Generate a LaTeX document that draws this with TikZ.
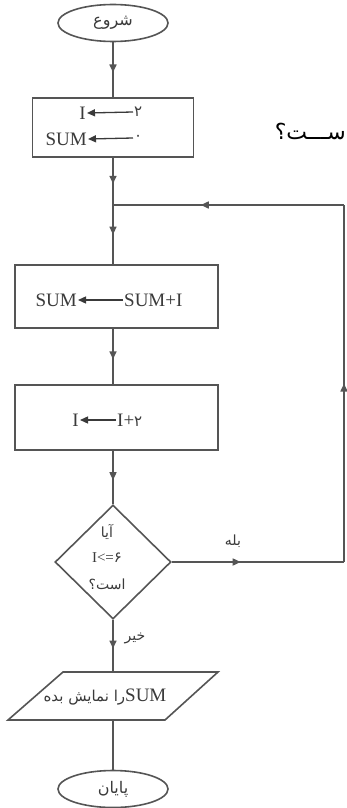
\documentclass[tikz,border=0pt]{standalone}
\usepackage{fontspec}
\setmainfont{Liberation Serif}
\newfontfamily\arabicfont[Script=Arabic]{DejaVu Sans}
\TeXXeTstate=1
\usetikzlibrary{shapes.geometric,decorations.markings,arrows.meta}
\definecolor{lc}{HTML}{555555}
\definecolor{tc}{HTML}{3a3a3a}
\begin{document}
\begin{tikzpicture}[x=1pt,y=-1pt,
  line/.style={draw=lc, line width=1.6pt},
  midarrow/.style={line, postaction={decorate},
    decoration={markings,mark=at position #1 with {\arrow{Triangle[length=8pt,width=7pt]}}}},
  term/.style={ellipse, draw=lc, line width=1.6pt, minimum width=110pt, minimum height=37pt, inner sep=0pt, text=tc, font=\arabicfont\fontsize{16}{18}\selectfont},
  proc/.style={rectangle, draw=lc, line width=1.6pt, inner sep=0pt},
  dec/.style={diamond, draw=lc, line width=1.6pt, minimum width=116pt, minimum height=114pt, inner sep=0pt},
  txt/.style={inner sep=1pt, text=tc, font=\fontsize{19}{22}\selectfont},
  ptxt/.style={inner sep=1pt, text=tc, font=\arabicfont\fontsize{14}{16}\selectfont},
  assign/.style={draw=tc, line width=1.3pt, -{Triangle[length=8pt,width=7pt]}}
]
\useasboundingbox (0,0) rectangle (347,808);
\fill[white] (0,0) rectangle (347,808);

% page text fragment
\node[anchor=base east, inner sep=0pt, text=black, font=\arabicfont\fontsize{22}{26}\selectfont] (frag) at (346,139) {\beginR ســـت؟\endR};

% nodes
\node[term] (start) at (113,23) {\beginR شروع\endR};
\node[proc, minimum width=161pt, minimum height=59pt] (b1) at (113,127.5) {};
\coordinate (j) at (113,205);
\node[proc, minimum width=203pt, minimum height=63pt] (b2) at (116.5,296.5) {};
\node[proc, minimum width=203pt, minimum height=65pt] (b3) at (116.5,417.5) {};
\node[dec] (d) at (113,562) {};
\coordinate (pt) at (113,672);
\coordinate (pb) at (113,720);
\draw[line] (8,720) -- (63,672) -- (218,672) -- (165,720) -- cycle;
\node[term] (end) at (113,789) {\beginR پایان\endR};
\coordinate (c1) at (344,562);
\coordinate (c2) at (344,205);

% texts in boxes
\node[txt, anchor=east] (i1) at (87,113) {I};
\node[txt, anchor=west, font=\arabicfont\fontsize{15}{18}\selectfont] (v1) at (133,112) {۲};
\draw[assign] (v1.west) -- (i1.east);
\node[txt, anchor=east] (s1) at (88,139) {SUM};
\node[txt, anchor=west, font=\arabicfont\fontsize{15}{18}\selectfont] (v2) at (133,138) {۰};
\draw[assign] (v2.west) -- (s1.east);

\node[txt, anchor=east] (s2) at (78,300) {SUM};
\node[txt, anchor=west] (e2) at (123,300) {SUM+I};
\draw[assign] (e2.west) -- (s2.east);

\node[txt, anchor=east] (i3) at (80,420) {I};
\node[txt, anchor=west] (e3) at (116,420) {I+{\arabicfont\fontsize{15}{18}\selectfont ۲}};
\draw[assign] (e3.west) -- (i3.east);

% diamond text
\node[ptxt] (q1) at (107,532) {\beginR آیا\endR};
\node[txt, font=\fontsize{15}{18}\selectfont] (q2) at (107,558) {I<={\arabicfont ۶}};
\node[ptxt] (q3) at (107,584) {\beginR است؟\endR};

% output text
\node[ptxt, font=\arabicfont\fontsize{15}{18}\selectfont] (o) at (105,697) {\beginR\beginL{\rmfamily\fontsize{19}{22}\selectfont SUM}\endL را نمایش بده\endR};

% labels
\node[ptxt] (yes) at (233,541) {\beginR بله\endR};
\node[ptxt] (no) at (135,638) {\beginR خیر\endR};

% connectors
\draw[midarrow=0.55] (start.south) -- (b1.north);
\draw[midarrow=0.55] (b1.south) -- (j);
\draw[midarrow=0.5] (j) -- (j |- b2.north);
\draw[midarrow=0.55] (j |- b2.south) -- (j |- b3.north);
\draw[midarrow=0.55] (j |- b3.south) -- (d.north);
\draw[midarrow=0.55] (d.south) -- (pt);
\draw[line] (pb) -- (end.north);
\draw[midarrow=0.4] (d.east) -- (c1);
\draw[midarrow=0.5] (c1) -- (c2);
\draw[midarrow=0.62] (c2) -- (j);
\end{tikzpicture}
\end{document}
